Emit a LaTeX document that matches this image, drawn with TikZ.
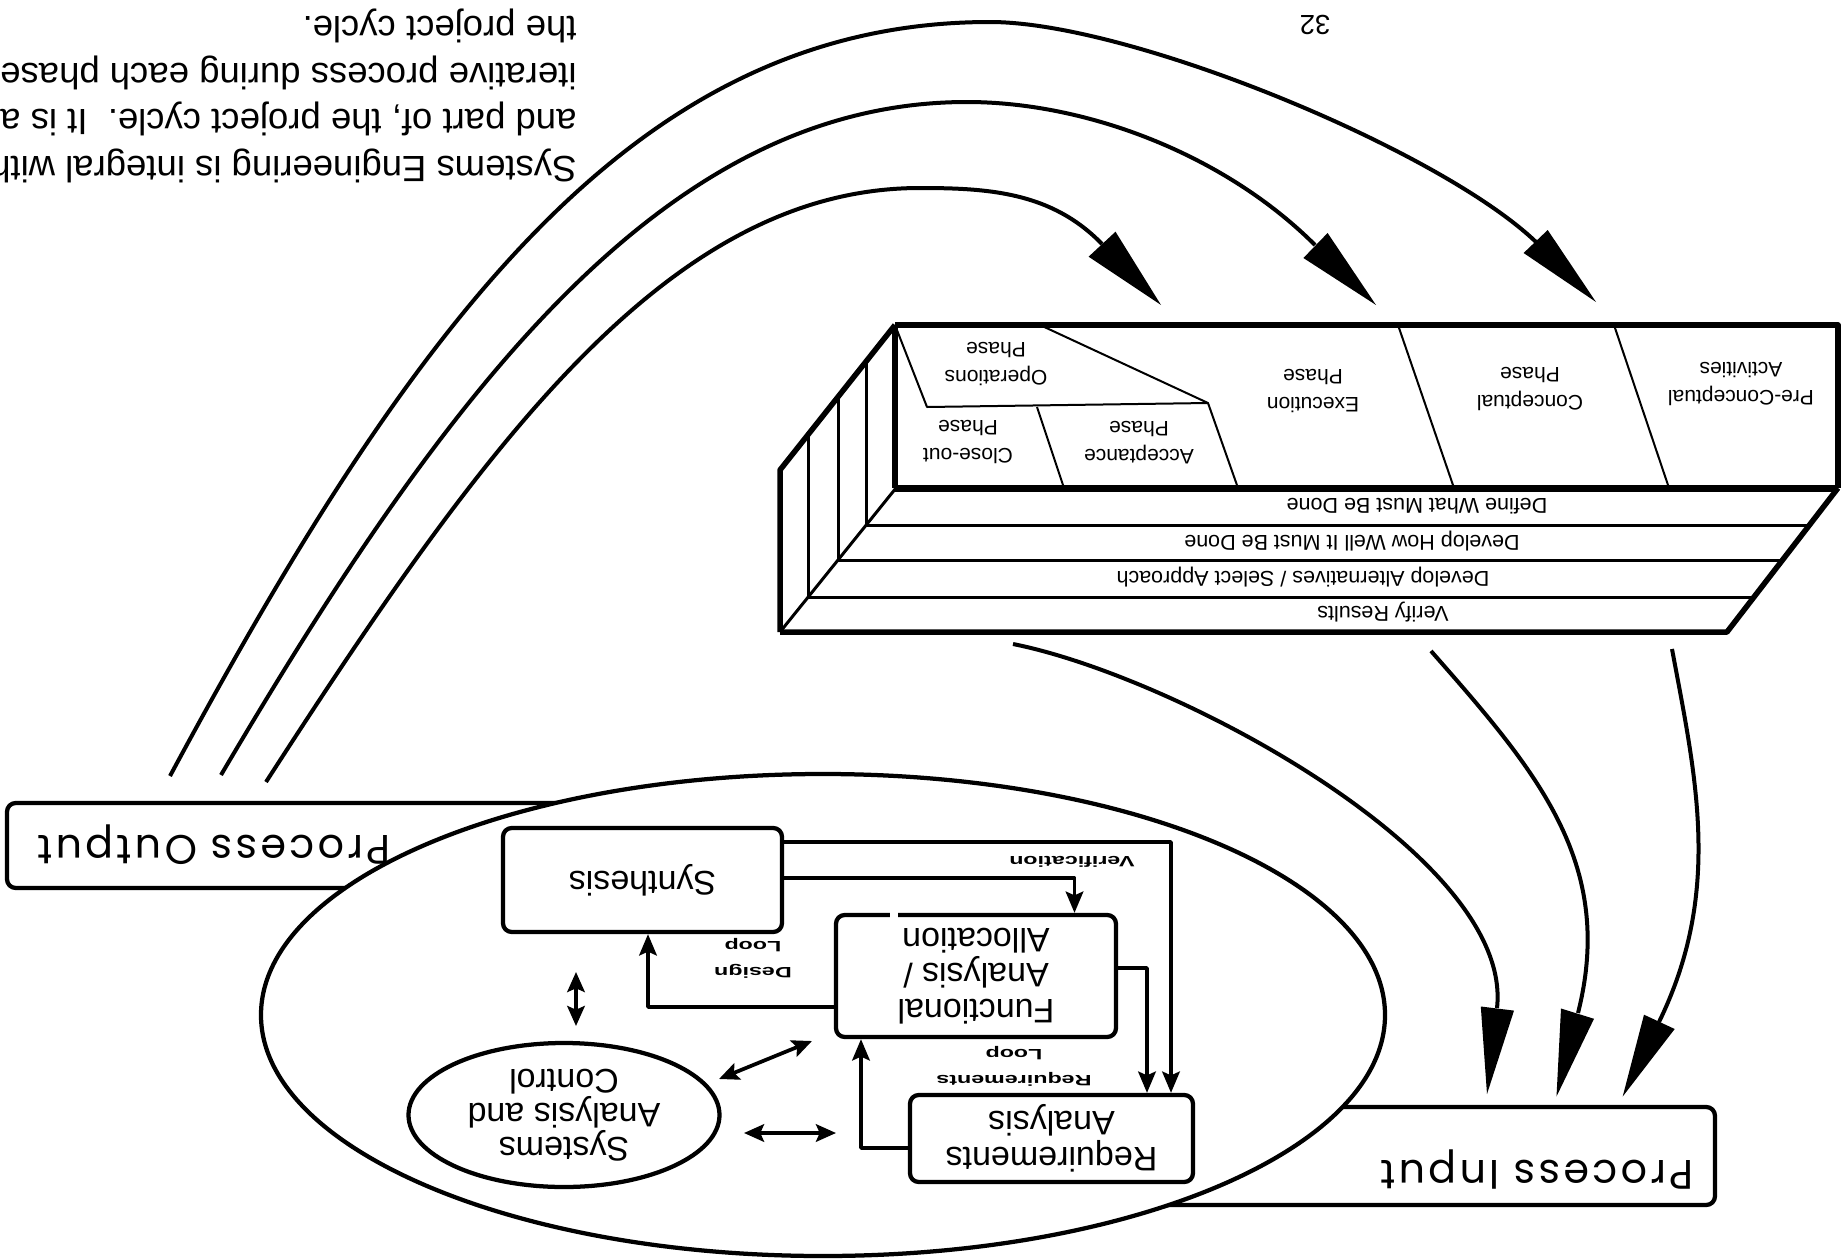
\documentclass[tikz,border=0pt]{standalone}
\usepackage{fontspec}
\setmainfont{Liberation Sans}
\newfontfamily\geofont[LetterSpace=8]{Poppins}
\newfontfamily\widefont[FakeStretch=1.55]{Liberation Sans Bold}
\usetikzlibrary{arrows.meta,shapes.geometric}
\begin{document}
\begin{tikzpicture}[x=0.4pt,y=-0.4pt,line join=round,
  flip/.style={rotate=180,inner sep=0pt,align=center},
  boxnode/.style={draw,line width=1.7pt,rounded corners=3.5pt,rotate=180,align=center,inner sep=0pt,
    font=\fontsize{13.6}{14.2}\selectfont},
  procbox/.style={draw,line width=1.7pt,rounded corners=3.5pt,inner sep=0pt},
  conn/.style={line width=1.5pt,-{Stealth[length=8.5pt,width=7pt,inset=1.5pt]}},
  dbl/.style={line width=1.5pt,{Stealth[length=8pt,width=7pt,inset=1.5pt]}-{Stealth[length=8pt,width=7pt,inset=1.5pt]}},
  arcline/.style={line width=1.6pt},
  phtext/.style={rotate=180,inner sep=0pt,align=center,font=\fontsize{8.4}{11.2}\selectfont},
  rowtext/.style={rotate=180,inner sep=0pt,align=center,font=\fontsize{8.6}{10}\selectfont},
  smalllbl/.style={rotate=180,inner sep=0pt,align=center,font=\widefont\fontsize{6}{10.4}\selectfont},
  heavy/.style={line width=2.2pt},
  medium/.style={line width=1.2pt},
  fine/.style={line width=0.8pt}]

\useasboundingbox (0,0) rectangle (1842,1260);
\clip (0,0) rectangle (1842,1260);

% ---------- paragraph (top left) ----------
\begin{scope}[every node/.style={rotate=180,inner sep=0pt,anchor=west,font=\fontsize{14.6}{18}\selectfont}]
\node (t1) at (577,165.5) {Systems Engineering is integral with};
\node (t2) at (577,119) {and part of, the project cycle.\ \ It is a};
\node (t3) at (577,72.5) {iterative process during each phase};
\node (t4) at (577,26) {the project cycle.};
\end{scope}
\node[flip,font=\fontsize{11}{12}\selectfont] (pg) at (1315,25) {32};

% ---------- process boxes (behind big ellipse) ----------
\node[procbox,minimum width=277.2pt,minimum height=34pt] (pout) at (353.5,845.5) {};
\node[procbox,minimum width=286pt,minimum height=39.2pt] (pin) at (1357.5,1156) {};
\node[flip,font=\geofont\fontsize{16.5}{18}\selectfont] (poutt) at (214,845) {Process Output};
\node[flip,font=\geofont\fontsize{16.5}{18}\selectfont] (pint) at (1537,1170) {Process Input};

% ---------- big ellipse ----------
\node[draw,fill=white,ellipse,line width=1.7pt,minimum width=449.6pt,minimum height=192.8pt,inner sep=0pt] (outer) at (823,1015) {};

% ---------- inner diagram ----------
\node[boxnode,minimum width=111.6pt,minimum height=41.6pt] (syn) at (642.5,880) {Synthesis};
\node[boxnode,minimum width=112pt,minimum height=48.8pt] (fa) at (976,976) {Functional\\Analysis /\\Allocation};
\fill[white] (890,911) rectangle (898,919);
\node[boxnode,minimum width=113.2pt,minimum height=34.8pt] (req) at (1051.5,1138.5) {Requirements\\Analysis};
\node[draw,ellipse,line width=1.7pt,minimum width=124.4pt,minimum height=57.6pt,inner sep=0pt,rotate=180,align=center,
  font=\fontsize{13.6}{13.6}\selectfont] (sac) at (564,1115) {Systems\\Analysis and\\Control};

\coordinate (va) at (1171,842);
\coordinate (vb) at (1074.5,878);
\coordinate (fr) at (1147,968);
\coordinate (dl) at (648,1007);
\coordinate (rl) at (861,1148);
\draw[conn] (syn.west |- va) -- (va) -- (va |- req.south);
\draw[conn] (syn.west |- vb) -- (vb) -- (vb |- fa.south);
\draw[conn] (fa.west |- fr) -- (fr) -- (fr |- req.south);
\draw[conn] (fa.east |- dl) -- (dl) -- (dl |- syn.north);
\draw[conn] (req.east |- rl) -- (rl) -- (rl |- fa.north);

\coordinate (d1a) at (576,972);
\coordinate (d1b) at (576,1026);
\coordinate (d2a) at (719,1079);
\coordinate (d2b) at (812,1041);
\coordinate (d3a) at (744,1133);
\coordinate (d3b) at (836,1133);
\draw[dbl] (d1a) -- (d1b);
\draw[dbl] (d2a) -- (d2b);
\draw[dbl] (d3a) -- (d3b);

\node[smalllbl] (lver) at (1072,862) {Verification};
\node[smalllbl] (ldes) at (753,958) {Design\\Loop};
\node[smalllbl] (lreq) at (1014,1066) {Requirements\\Loop};

% ---------- phase block ----------
\draw[medium] (866,525) -- (1809,525);
\draw[medium] (838,560) -- (1782,560);
\draw[medium] (808,597) -- (1754,597);
\draw[heavy] (1838,488) -- (1727,632) -- (780,632);
\draw[medium] (896,488) -- (780,632);
\draw[heavy] (780,632) -- (780,470) -- (895,325);
\draw[medium] (866,525) -- (866,362);
\draw[medium] (838,560) -- (838,397);
\draw[medium] (808,597) -- (808,435);
\draw[fine] (1614,325) -- (1669,488);
\draw[fine] (1398,325) -- (1454,488);
\draw[fine] (1040,325) -- (1208,403) -- (1238,488);
\draw[fine] (895,325) -- (927,407) -- (1208,403);
\draw[fine] (1037,407) -- (1064,488);
\draw[heavy] (895,325) -- (1838,325) -- (1838,488);
\draw[line width=2.8pt] (895,488) -- (1838,488);
\draw[heavy] (895,325) -- (895,488);

\node[phtext] (p0) at (1741,384) {Pre-Conceptual\\Activities};
\node[phtext] (p1) at (1530,389) {Conceptual\\Phase};
\node[phtext] (p2) at (1313,391) {Execution\\Phase};
\node[phtext] (p3) at (996,364) {Operations\\Phase};
\node[phtext] (p4) at (1139,443) {Acceptance\\Phase};
\node[phtext] (p5) at (968,442) {Close-out\\Phase};
\node[rowtext] (r1) at (1417,506) {Define What Must Be Done};
\node[rowtext] (r2) at (1352,541) {Develop How Well It Must Be Done};
\node[rowtext] (r3) at (1303,577) {Develop Alternatives / Select Approach};
\node[rowtext] (r4) at (1383,612) {Verify Results};

% ---------- big arcs: output -> phases ----------
\coordinate (oa0) at (170,776);  \coordinate (oa1) at (990,22);  \coordinate (oa2) at (1536,242);
\coordinate (ma0) at (221,775);  \coordinate (ma1) at (967,102); \coordinate (ma2) at (1315,245);
\coordinate (ia0) at (266,782);  \coordinate (ia1) at (920,188); \coordinate (ia2) at (1102,244);
\draw[arcline] (oa0) .. controls (420,311) and (640,22) .. (oa1) .. controls (1130,22) and (1440,150) .. (oa2);
\draw[arcline] (ma0) .. controls (451,384) and (667,102) .. (ma1) .. controls (1087,102) and (1225,155) .. (ma2);
\draw[arcline] (ia0) .. controls (486,441) and (670,188) .. (ia1) .. controls (990,188) and (1052,192.5) .. (ia2);
\fill (1161,305) -- (1088.6,256.7) -- (1115.5,231.7) -- cycle;
\fill (1376,305) -- (1303.4,258) -- (1327.6,233) -- cycle;
\fill (1596,302) -- (1523.6,253) -- (1547.7,230) -- cycle;

% ---------- big arcs: phases -> input ----------
\coordinate (la0) at (1013,644);  \coordinate (la1) at (1497,1008);
\coordinate (lb0) at (1431,651);  \coordinate (lb1) at (1578,1013);
\coordinate (lc0) at (1672,649);  \coordinate (lc1) at (1659,1022);
\draw[arcline] (la0) .. controls (1178,677) and (1514,858) .. (la1);
\draw[arcline] (lb0) .. controls (1536.6,771) and (1616,863) .. (lb1);
\draw[arcline] (lc0) .. controls (1696.3,779) and (1722.3,892) .. (lc1);
\fill (1487,1094) -- (1480.8,1006.5) -- (1514,1010.6) -- cycle;
\fill (1556.5,1096.5) -- (1561,1008.5) -- (1594,1018.8) -- cycle;
\fill (1622.7,1096.5) -- (1644,1014.7) -- (1674.7,1029) -- cycle;
\end{tikzpicture}
\end{document}
